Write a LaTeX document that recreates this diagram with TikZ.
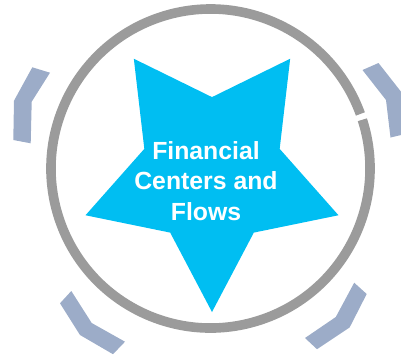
\documentclass[tikz,border=0pt]{standalone}
\usepackage{fontspec}
\setmainfont{Liberation Sans}
\usetikzlibrary{calc, positioning}

\definecolor{ringgray}{RGB}{155,155,155}
\definecolor{starblue}{RGB}{0,190,242}
\definecolor{bracketblue}{RGB}{156,172,200}

\tikzset{
  ring/.style={draw=ringgray, line width=7.2pt},
  bracket/.style={fill=bracketblue},
  startext/.style={text=white, font=\bfseries\fontsize{18.6}{23}\selectfont, align=center}
}

\begin{document}
\begin{tikzpicture}[x=0.75pt, y=-0.75pt]
\def\Rring{159.5}
\def\gapang{-18.9}
\def\gapw{1.1}
\def\Rin{0.535}
\pgfmathsetmacro{\ringstart}{\gapang+\gapw}
\pgfmathsetmacro{\ringend}{\gapang-\gapw+360}

\clip (0,0) rectangle (401,355);
\useasboundingbox (0,0) rectangle (401,355);

\coordinate (O) at (210.5,168.5);

% Outer ring, open at the upper right
\draw[ring] ($(O)+(\ringstart:\Rring)$) arc[start angle=\ringstart, end angle=\ringend, radius=\Rring];

% Star pointing down
\begin{scope}[shift={(212,172)}, x=99.75pt, y=-105pt]
\fill[starblue] (90:1) -- (126:\Rin) -- (162:1) -- (198:\Rin) -- (234:1)
  -- (270:\Rin) -- (306:1) -- (342:\Rin) -- (18:1) -- (54:\Rin) -- cycle;
\end{scope}

% Bent brackets round the ring
\fill[bracket] (32.3,67.3) -- (50,72.7) -- (31.7,101.7) -- (30.7,143.3)
  -- (13.3,140) -- (14,100.7) -- cycle;
\fill[bracket] (362.5,70) -- (378.5,63) -- (402.2,93.2) -- (407.5,133.5)
  -- (390.5,137.5) -- (386,100) -- cycle;
\fill[bracket] (71.3,291) -- (60,303.3) -- (80,335) -- (113,354.2)
  -- (125,341.7) -- (91.7,323) -- cycle;
\fill[bracket] (354.2,282.7) -- (366.7,294) -- (349.6,327.5) -- (317,349.2)
  -- (305,338) -- (335.8,317) -- cycle;

% Label
\node[startext] (title) at (206,181) {Financial\\Centers and\\Flows};
\end{tikzpicture}
\end{document}
